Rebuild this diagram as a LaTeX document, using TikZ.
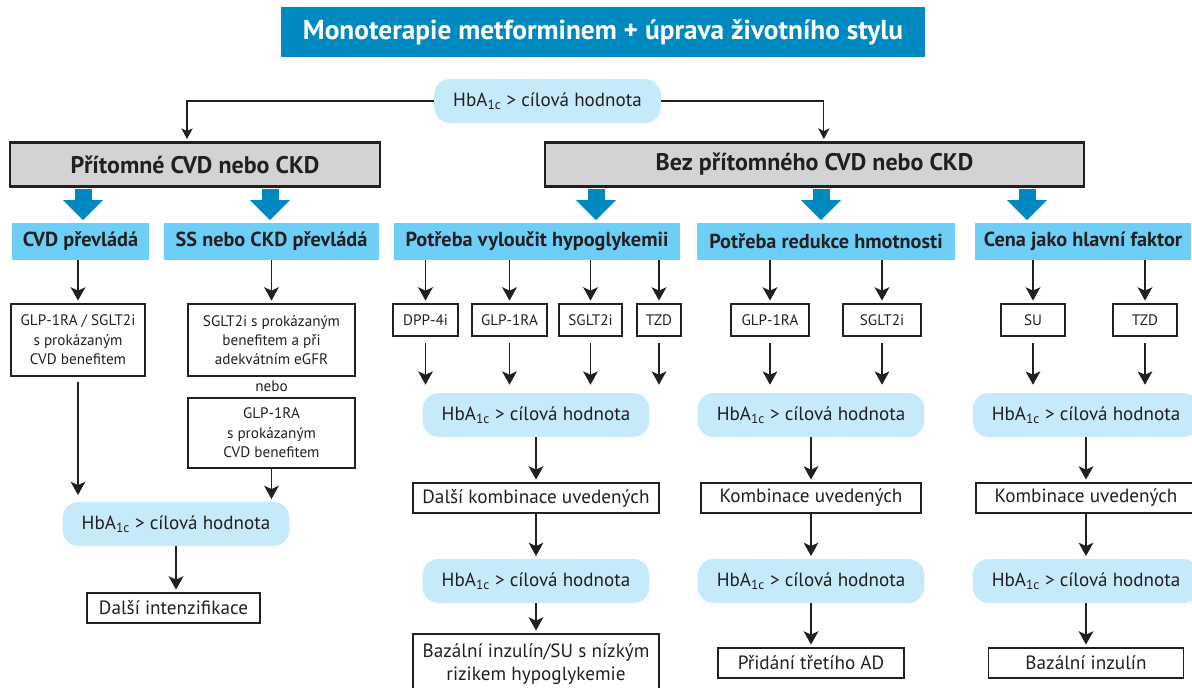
\documentclass[tikz,border=0pt]{standalone}
\usepackage{fontspec}
\setmainfont{PT Sans}
\usetikzlibrary{arrows.meta}
\definecolor{titleblue}{RGB}{0,137,191}
\definecolor{catblue}{RGB}{109,207,246}
\definecolor{pillblue}{RGB}{199,234,251}
\definecolor{groupgray}{RGB}{209,211,212}
\definecolor{ink}{RGB}{35,31,32}
\newcommand\hba{HbA\textsubscript{1c} > cílová hodnota}

\tikzset{
  titlebox/.style={fill=titleblue, text=white, minimum width=483pt, minimum height=37.5pt,
    font=\bfseries\fontsize{20.5pt}{24pt}\selectfont},
  groupbox/.style={draw=ink, line width=2.2pt, fill=groupgray, minimum height=33pt,
    font=\bfseries\fontsize{18pt}{21pt}\selectfont},
  catbox/.style={fill=catblue, minimum height=27.75pt, font=\bfseries\fontsize{15.2pt}{18pt}\selectfont},
  pill/.style={fill=pillblue, rounded corners=12pt, minimum width=170pt, minimum height=33pt,
    font=\fontsize{14.3pt}{17pt}\selectfont},
  drug/.style={draw=ink, line width=1.1pt, minimum height=24pt, inner sep=1pt,
    font=\fontsize{11.4pt}{13pt}\selectfont},
  infobox/.style={draw=ink, line width=1.1pt, inner sep=1pt, align=center,
    font=\fontsize{11.4pt}{14.5pt}\selectfont},
  resbox/.style={draw=ink, line width=1.1pt, minimum height=22.5pt, inner sep=1pt, align=center,
    font=\fontsize{14.4pt}{17.5pt}\selectfont},
  flow/.style={draw=ink, line width=1.4pt, -{Stealth[length=10pt, width=11pt, inset=2.5pt]}, shorten >=2pt},
  link/.style={draw=ink, line width=0.9pt, -{Stealth[length=8pt, width=8.5pt, inset=2pt]}, shorten >=1.5pt},
  bigarrow/.style={draw=titleblue, line width=12.75pt, -{Triangle[length=15pt, width=29pt]},
    shorten <=1pt, shorten >=2pt},
}

\begin{document}
\begin{tikzpicture}[x=0.75pt, y=-0.75pt, every node/.style={text=ink}]
\useasboundingbox (0,0) rectangle (1192,687);

% Title
\node[titlebox] (title) at (603,32) {Monoterapie metforminem + úprava životního stylu};

% First check and the two groups
\node[pill] (top) at (547.5,101) {\hba};
\node[groupbox, minimum width=277.5pt] (pres) at (195,164.5) {Přítomné CVD nebo CKD};
\node[groupbox, minimum width=404.25pt] (bez) at (814.5,164.5) {Bez přítomného CVD nebo CKD};
\draw[link] (top.west) -| ([xshift=-6pt]pres.north);
\draw[link] (top.east) -| ([xshift=7pt]bez.north);

% Categories
\node[catbox, minimum width=102.75pt] (cvd) at (80.5,241.5) {CVD převládá};
\node[catbox, minimum width=161.25pt] (ss) at (271.5,241.5) {SS nebo CKD převládá};
\node[catbox, minimum width=214.5pt] (hypo) at (537,241.5) {Potřeba vyloučit hypoglykemii};
\node[catbox, minimum width=193.5pt] (weight) at (826,241.5) {Potřeba redukce hmotnosti};
\node[catbox, minimum width=162pt] (cost) at (1083,241.5) {Cena jako hlavní faktor};

% Big arrows
\draw[bigarrow] (pres.south -| 83,0) -- (cvd.north -| 83,0);
\draw[bigarrow] (pres.south -| 270,0) -- (ss.north -| 270,0);
\draw[bigarrow] (bez.south -| 596,0) -- (hypo.north -| 596,0);
\draw[bigarrow] (bez.south -| 821,0) -- (weight.north -| 821,0);
\draw[bigarrow] (bez.south -| 1027,0) -- (cost.north -| 1027,0);

% CVD / CKD branch
\node[infobox, minimum width=100.5pt, minimum height=54pt] (cvdbox) at (78,340)
  {GLP-1RA / SGLT2i\\ s prokázaným\\ CVD benefitem};
\node[infobox, minimum width=125.25pt, minimum height=54pt] (sgltbox) at (271.5,340)
  {SGLT2i s prokázaným\\ benefitem a při\\ adekvátním eGFR};
\node[font=\fontsize{11.4pt}{13pt}\selectfont] (nebo) at (271.5,386) {nebo};
\node[infobox, minimum width=125.25pt, minimum height=52.5pt] (glpbox) at (271.5,433)
  {GLP-1RA\\ s prokázaným\\ CVD benefitem};
\node[pill] (pillL) at (176,524) {\hba};
\node[resbox, minimum width=129.75pt] (further) at (173.5,608) {Další intenzifikace};

\draw[flow] (cvd.south -| cvdbox.north) -- (cvdbox.north);
\draw[flow] (ss.south -| sgltbox.north) -- (sgltbox.north);
\draw[flow, shorten <=4pt, shorten >=5pt] (cvdbox.south) -- (pillL.north -| cvdbox.south);
\draw[flow] (glpbox.south) -- (pillL.north -| glpbox.south);
\draw[flow] (pillL.south) -- (pillL.south |- further.north);

% Hypoglycaemia branch
\node[drug, minimum width=48.75pt] (dpp) at (425.5,320) {DPP-4i};
\node[drug, minimum width=56.25pt] (glpA) at (509.5,320) {GLP-1RA};
\node[drug, minimum width=47.25pt] (sglA) at (590.5,320) {SGLT2i};
\node[drug, minimum width=33pt] (tzdA) at (659,320) {TZD};
\node[pill] (pillH1) at (536,415) {\hba};
\node[resbox, minimum width=184.5pt] (combH) at (536,498) {Další kombinace uvedených};
\node[pill] (pillH2) at (536,581) {\hba};
\node[resbox, minimum width=184.5pt, minimum height=45pt] (basalH) at (536,664)
  {Bazální inzulín/SU s nízkým\\ rizikem hypoglykemie};

\foreach \d in {dpp,glpA,sglA,tzdA}{
  \draw[flow] (hypo.south -| \d.north) -- (\d.north);
  \draw[flow, shorten <=5pt, shorten >=6pt] (\d.south) -- (pillH1.north -| \d.south);
}
\draw[flow] (pillH1.south) -- (combH.north);
\draw[flow] (combH.south) -- (pillH2.north);
\draw[flow] (pillH2.south) -- (basalH.north);

% Weight branch
\node[drug, minimum width=58.5pt] (glpB) at (770,320) {GLP-1RA};
\node[drug, minimum width=58.5pt] (sglB) at (882,320) {SGLT2i};
\node[pill] (pillW1) at (811,415) {\hba};
\node[resbox, minimum width=165pt] (combW) at (811,498) {Kombinace uvedených};
\node[pill] (pillW2) at (811,581) {\hba};
\node[resbox, minimum width=139.5pt] (addW) at (811,663) {Přidání třetího AD};

\foreach \d in {glpB,sglB}{
  \draw[flow] (weight.south -| \d.north) -- (\d.north);
  \draw[flow, shorten <=5pt, shorten >=6pt] (\d.south) -- (pillW1.north -| \d.south);
}
\draw[flow] (pillW1.south) -- (combW.north);
\draw[flow] (combW.south) -- (pillW2.north);
\draw[flow] (pillW2.south) -- (addW.north);

% Cost branch
\node[drug, minimum width=48pt] (su) at (1033,320) {SU};
\node[drug, minimum width=48pt] (tzdB) at (1145,320) {TZD};
\node[pill] (pillC1) at (1086,415) {\hba};
\node[resbox, minimum width=165pt] (combC) at (1086,498) {Kombinace uvedených};
\node[pill] (pillC2) at (1086,581) {\hba};
\node[resbox, minimum width=146.25pt] (basalC) at (1086,663) {Bazální inzulín};

\foreach \d in {su,tzdB}{
  \draw[flow] (cost.south -| \d.north) -- (\d.north);
  \draw[flow, shorten <=5pt, shorten >=6pt] (\d.south) -- (pillC1.north -| \d.south);
}
\draw[flow] (pillC1.south) -- (combC.north);
\draw[flow] (combC.south) -- (pillC2.north);
\draw[flow] (pillC2.south) -- (basalC.north);
\end{tikzpicture}
\end{document}
